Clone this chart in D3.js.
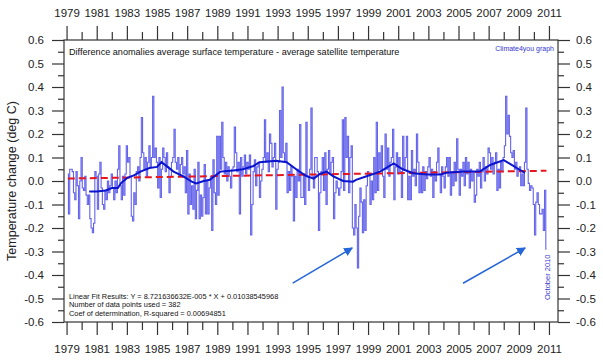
<!DOCTYPE html>
<html>
<head>
<meta charset="utf-8">
<script src="https://cdn.jsdelivr.net/npm/d3@7"></script>
<style>
  body { margin: 0; background: #fff; }
  svg { display: block; }
  text { font-family: Arial, "Liberation Sans", sans-serif; }
</style>
</head>
<body>
<div id="chart"></div>
<script>
// monthly difference surface - satellite (deg C), Jan 1979 .. Oct 2010, one row per year
const startYear = 1979;
const monthlyDiff = [
  0.03, -0.14, 0.05, 0.05, 0.04, -0.05, -0.08, 0.04, -0.02, -0.16, 0.00, 0.10,     // 1979
  -0.03, -0.04, 0.02, -0.06, -0.10, -0.06, -0.16, -0.20, -0.22, -0.18, 0.04, 0.02, // 1980
  -0.12, 0.03, 0.08, -0.03, -0.10, -0.12, -0.04, -0.08, 0.00, -0.05, -0.02, 0.03,  // 1981
  -0.03, -0.08, 0.00, -0.05, 0.05, 0.15, -0.02, -0.08, 0.02, -0.06, 0.03, 0.15,    // 1982
  0.08, 0.10, 0.02, -0.15, -0.17, -0.05, -0.10, 0.04, 0.06, 0.00, 0.10, 0.27,      // 1983
  0.12, 0.05, 0.10, 0.02, 0.08, 0.15, 0.06, 0.10, 0.36, 0.10, 0.14, 0.08,          // 1984
  -0.03, 0.10, -0.07, 0.05, 0.14, 0.10, 0.04, 0.12, 0.06, -0.05, 0.02, 0.08,       // 1985
  0.10, 0.22, 0.08, 0.05, 0.10, 0.02, 0.07, 0.10, 0.03, 0.06, -0.05, 0.13,         // 1986
  -0.14, 0.03, -0.10, -0.02, -0.12, 0.05, -0.16, -0.04, 0.08, -0.16, -0.06, -0.15, // 1987
  -0.07, 0.07, -0.14, 0.00, -0.14, -0.03, 0.02, -0.21, 0.09, -0.05, -0.10, 0.19,   // 1988
  -0.06, 0.19, 0.05, 0.25, 0.10, 0.03, 0.08, 0.00, 0.06, 0.02, -0.03, 0.05,        // 1989
  0.06, 0.23, 0.12, 0.04, 0.08, -0.14, 0.10, 0.02, 0.06, 0.11, 0.03, 0.08,         // 1990
  0.05, 0.11, -0.23, -0.10, 0.04, 0.09, -0.02, 0.06, 0.08, -0.07, 0.00, 0.05,      // 1991
  0.10, 0.26, 0.08, 0.12, 0.04, 0.20, 0.16, 0.06, 0.10, 0.16, -0.12, 0.05,         // 1992
  0.08, 0.30, 0.10, 0.40, 0.12, 0.08, 0.16, -0.05, 0.04, -0.04, 0.06, 0.02,        // 1993
  -0.17, 0.02, -0.07, 0.05, 0.00, 0.24, -0.07, -0.07, 0.03, -0.10, 0.25, 0.02,     // 1994
  -0.04, 0.05, 0.31, 0.02, -0.03, 0.10, 0.10, 0.04, -0.21, -0.05, 0.04, 0.10,      // 1995
  -0.04, 0.12, -0.10, 0.05, 0.13, 0.03, 0.08, 0.10, -0.16, -0.05, 0.00, -0.03,     // 1996
  -0.06, -0.03, 0.04, 0.26, -0.04, 0.27, 0.10, 0.19, -0.05, 0.10, 0.15, -0.20,     // 1997
  -0.23, -0.10, -0.20, -0.37, -0.15, -0.03, -0.09, -0.22, -0.08, -0.21, -0.02, 0.04, // 1998
  0.03, -0.10, 0.00, -0.08, 0.10, -0.05, 0.25, -0.04, 0.12, 0.05, 0.15, 0.02,      // 1999
  -0.07, 0.20, 0.05, 0.14, 0.02, 0.08, 0.10, 0.22, -0.08, 0.06, 0.12, 0.03,        // 2000
  0.10, 0.04, -0.07, 0.19, 0.05, 0.10, 0.19, -0.08, 0.02, -0.08, 0.13, 0.02,       // 2001
  0.05, -0.02, 0.20, 0.08, -0.05, 0.03, -0.05, 0.06, -0.04, 0.04, 0.01, 0.06,      // 2002
  0.10, 0.02, 0.05, -0.07, 0.04, 0.00, 0.08, 0.14, 0.03, -0.05, 0.06, 0.02,        // 2003
  -0.03, 0.06, 0.10, 0.02, 0.10, -0.06, 0.04, -0.02, 0.08, 0.00, 0.18, 0.05,       // 2004
  -0.06, 0.05, 0.02, 0.08, -0.02, 0.10, 0.03, 0.08, -0.03, 0.05, 0.00, 0.04,       // 2005
  -0.09, -0.06, 0.05, 0.02, 0.08, -0.03, 0.04, 0.10, 0.00, 0.06, 0.03, 0.14,       // 2006
  0.12, 0.05, 0.10, 0.03, 0.08, 0.12, -0.04, 0.05, -0.03, 0.08, 0.04, 0.10,        // 2007
  0.15, 0.36, 0.20, 0.28, 0.19, 0.12, 0.10, 0.13, 0.05, 0.08, 0.02, 0.05,          // 2008
  0.06, -0.02, 0.03, -0.02, 0.08, 0.31, 0.05, -0.01, -0.04, -0.02, -0.03, -0.10,   // 2009
  -0.23, -0.09, -0.05, -0.10, -0.14, -0.14, -0.12, -0.21, -0.04, -0.29             // 2010
];

// 37 month running mean
const meanYears = [1980.5, 1981.0, 1981.6, 1982.0, 1982.4, 1982.6, 1983.0, 1983.5, 1983.9, 1984.5, 1985.0, 1985.3,
  1985.7, 1986.1, 1986.75, 1987.3, 1987.6, 1988.1, 1988.5, 1989.2, 1990.06, 1990.7, 1991.4, 1991.8, 1992.9,
  1993.6, 1994.3, 1994.9, 1995.4, 1995.8, 1996.25, 1996.7, 1997.35, 1998.0, 1998.2, 1998.9, 1999.8, 2000.7,
  2001.3, 2002.0, 2002.9, 2003.8, 2004.2, 2005.3, 2006.4, 2007.1, 2008.0, 2008.5, 2009.0, 2009.4];
const meanValues = [-0.045, -0.045, -0.04, -0.03, -0.03, -0.01, 0.012, 0.025, 0.04, 0.055, 0.06, 0.08,
  0.06, 0.04, 0.02, -0.003, -0.01, 0.0, 0.005, 0.04, 0.045, 0.05, 0.064, 0.08, 0.086,
  0.08, 0.047, 0.021, 0.01, 0.03, 0.04, 0.02, 0.0, -0.003, 0.005, 0.02, 0.04, 0.075,
  0.05, 0.033, 0.028, 0.028, 0.035, 0.04, 0.04, 0.068, 0.089, 0.07, 0.05, 0.035];

// linear fit Y = a * X + b, X = month number
const fitSlope = 8.721636632e-5;
const fitIntercept = 0.01038545968;

const yearTicks = d3.range(1979, 2012, 2);
const yearMinor = d3.range(1980, 2012, 2);
const tempTicks = d3.range(-6, 7).map(d => d / 10);
const tempMinor = d3.range(-11, 12, 2).map(d => d / 20);

const fitLines = [
  "Linear Fit Results:   Y = 8.721636632E-005 * X + 0.01038545968",
  "Number of data points used = 382",
  "Coef of determination, R-squared = 0.00694851"
];

// arrows: [fromYear, fromValue, toYear, toValue]
const arrows = [
  [1994.0, -0.435, 1997.95, -0.285],
  [2005.3, -0.435, 2009.42, -0.285]
];

const width = 603, height = 363;
const margin = {top: 40, right: 45, bottom: 41, left: 64};

const svg = d3.select("#chart").append("svg")
  .attr("width", width)
  .attr("height", height);

const x = d3.scaleLinear().domain([1978.83, 2011.6]).range([margin.left, width - margin.right]);
const y = d3.scaleLinear().domain([-0.6, 0.6]).range([height - margin.bottom, margin.top]);

const axisColor = "#333";

function styleAxis(g) {
  g.selectAll("line").attr("stroke", axisColor).attr("stroke-width", 1.2);
  g.selectAll("path").remove();
  g.selectAll("text").attr("fill", "#222").style("font-size", "11.5px");
}

// year axes top and bottom
svg.append("g").attr("transform", `translate(0,${margin.top})`)
  .call(d3.axisTop(x).tickValues(yearTicks).tickFormat(d3.format("d")).tickSize(14).tickPadding(9))
  .call(styleAxis);
svg.append("g").attr("transform", `translate(0,${margin.top})`)
  .call(d3.axisTop(x).tickValues(yearMinor).tickFormat("").tickSize(8))
  .call(styleAxis);
svg.append("g").attr("transform", `translate(0,${height - margin.bottom})`)
  .call(d3.axisBottom(x).tickValues(yearTicks).tickFormat(d3.format("d")).tickSize(13).tickPadding(10))
  .call(styleAxis);
svg.append("g").attr("transform", `translate(0,${height - margin.bottom})`)
  .call(d3.axisBottom(x).tickValues(yearMinor).tickFormat("").tickSize(8))
  .call(styleAxis);

// temperature axes left and right
const fmt = d => d.toFixed(1);
svg.append("g").attr("transform", `translate(${margin.left},0)`)
  .call(d3.axisLeft(y).tickValues(tempTicks).tickFormat(fmt).tickSize(12).tickPadding(8))
  .call(styleAxis);
svg.append("g").attr("transform", `translate(${margin.left},0)`)
  .call(d3.axisLeft(y).tickValues(tempMinor).tickFormat("").tickSize(6))
  .call(styleAxis);
svg.append("g").attr("transform", `translate(${width - margin.right},0)`)
  .call(d3.axisRight(y).tickValues(tempTicks).tickFormat(fmt).tickSize(12).tickPadding(6))
  .call(styleAxis);
svg.append("g").attr("transform", `translate(${width - margin.right},0)`)
  .call(d3.axisRight(y).tickValues(tempMinor).tickFormat("").tickSize(6))
  .call(styleAxis);

svg.append("rect")
  .attr("x", margin.left).attr("y", margin.top)
  .attr("width", width - margin.left - margin.right)
  .attr("height", height - margin.top - margin.bottom)
  .attr("fill", "none").attr("stroke", axisColor).attr("stroke-width", 1.2);

// y title
svg.append("text")
  .attr("transform", `translate(16,${y(0)}) rotate(-90)`)
  .attr("text-anchor", "middle")
  .attr("fill", "#222")
  .style("font-size", "12.5px")
  .text("Temperature change (deg C)");

// data
const series = monthlyDiff.map((v, i) => ({t: startYear + (i + 1) / 12, v}));

svg.append("path")
  .datum(series)
  .attr("fill", "none")
  .attr("stroke", "#4848e8")
  .attr("stroke-opacity", 0.85)
  .attr("stroke-width", 1.1)
  .attr("d", d3.line().x(d => x(d.t)).y(d => y(d.v)).curve(d3.curveStep));

const fitData = [1, monthlyDiff.length].map(n => ({t: startYear + n / 12, v: fitSlope * n + fitIntercept}));
svg.append("path")
  .datum(fitData)
  .attr("fill", "none")
  .attr("stroke", "#e8141e")
  .attr("stroke-width", 2)
  .attr("stroke-dasharray", "7,4")
  .attr("d", d3.line().x(d => x(d.t)).y(d => y(d.v)));

svg.append("path")
  .datum(meanYears.map((t, i) => ({t, v: meanValues[i]})))
  .attr("fill", "none")
  .attr("stroke", "#0a14cc")
  .attr("stroke-width", 2)
  .attr("d", d3.line().x(d => x(d.t)).y(d => y(d.v)));

// texts inside plot
svg.append("text")
  .attr("x", margin.left + 5).attr("y", 55)
  .attr("fill", "#111")
  .style("font-size", "9.1px")
  .text("Difference anomalies average surface temperature - average satellite temperature");

svg.append("text")
  .attr("x", width - margin.right - 4).attr("y", 51)
  .attr("text-anchor", "end")
  .attr("fill", "#3535d0")
  .style("font-size", "7px")
  .text("Climate4you graph");

svg.selectAll(".fit")
  .data(fitLines)
  .enter()
  .append("text")
  .attr("class", "fit")
  .attr("x", margin.left + 5)
  .attr("y", (d, i) => 298.5 + i * 8.8)
  .attr("fill", "#111")
  .style("font-size", "7.4px")
  .text(d => d);

svg.append("text")
  .attr("transform", `translate(${x(2010.83) + 4},300) rotate(-90)`)
  .attr("fill", "#3535d0")
  .style("font-size", "7.5px")
  .text("October 2010");

// arrows
const defs = svg.append("defs");
defs.append("marker")
  .attr("id", "head")
  .attr("viewBox", "0 0 10 10")
  .attr("refX", 9).attr("refY", 5)
  .attr("markerWidth", 6).attr("markerHeight", 6)
  .attr("orient", "auto")
  .append("path")
  .attr("d", "M0,0 L10,5 L0,10 z")
  .attr("fill", "#2566d8");

svg.selectAll(".arrow")
  .data(arrows)
  .enter()
  .append("line")
  .attr("class", "arrow")
  .attr("x1", d => x(d[0])).attr("y1", d => y(d[1]))
  .attr("x2", d => x(d[2])).attr("y2", d => y(d[3]))
  .attr("stroke", "#2566d8")
  .attr("stroke-width", 1.5)
  .attr("marker-end", "url(#head)");
</script>
</body>
</html>
